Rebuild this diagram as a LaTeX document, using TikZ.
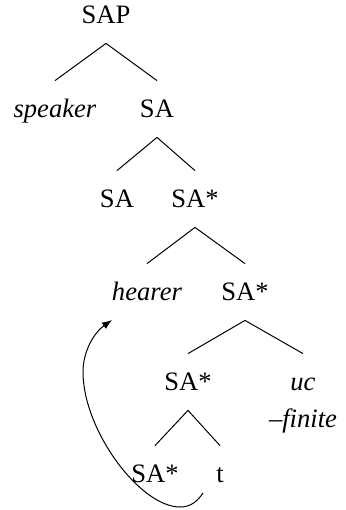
\documentclass[tikz,border=0pt]{standalone}
\usepackage{fontspec}
\setmainfont{Liberation Serif}
\usetikzlibrary{arrows.meta,calc}
\begin{document}
\begin{tikzpicture}[x=0.5pt,y=-0.5pt,
  tn/.style={anchor=base,inner sep=0pt,text height=18pt,text depth=10pt,font=\fontsize{13.3}{16}\selectfont},
  br/.style={line width=0.5pt},
  mv/.style={line width=0.5pt,-{Latex[length=5pt,width=3.8pt]}}]
\useasboundingbox (0,0) rectangle (345,510);
\node[tn] (sap) at (106,23) {SAP};
\node[tn] (speaker) at (55,117) {\textit{speaker}};
\node[tn] (sa1) at (157,117) {SA};
\node[tn] (sa2) at (117,207) {SA};
\node[tn] (sas1) at (195,207) {SA*};
\node[tn] (hearer) at (147,300) {\textit{hearer}};
\node[tn] (sas2) at (245,300) {SA*};
\node[tn] (sas3) at (188,390) {SA*};
\node[tn] (uc) at (303,390) {\textit{uc}};
\node[tn] (fin) at (303,427) {\textit{–finite}};
\node[tn] (sas4) at (155,482) {SA*};
\node[tn] (t) at (220,482) {t};
\draw[br] (sap.south) -- (speaker.north);
\draw[br] (sap.south) -- (sa1.north);
\draw[br] (sa1.south) -- (sa2.north);
\draw[br] (sa1.south) -- (sas1.north);
\draw[br] (sas1.south) -- (hearer.north);
\draw[br] (sas1.south) -- (sas2.north);
\draw[br] (sas2.south) -- (sas3.north);
\draw[br] (sas2.south) -- (uc.north);
\draw[br] (sas3.south) -- (sas4.north);
\draw[br] (sas3.south) -- (t.north);
\coordinate (mvs) at ($(t.base)+(-17,11)$);
\coordinate (mvb) at (180,507);
\coordinate (mvl) at (83,372);
\coordinate (mve) at ($(hearer.base)+(-35,20)$);
\draw[mv] (mvs) .. controls (197,502) and (190,507) .. (mvb)
  .. controls (140,507) and (83,430) .. (mvl)
  .. controls (83,350) and (95,332) .. (mve);
\end{tikzpicture}
\end{document}
